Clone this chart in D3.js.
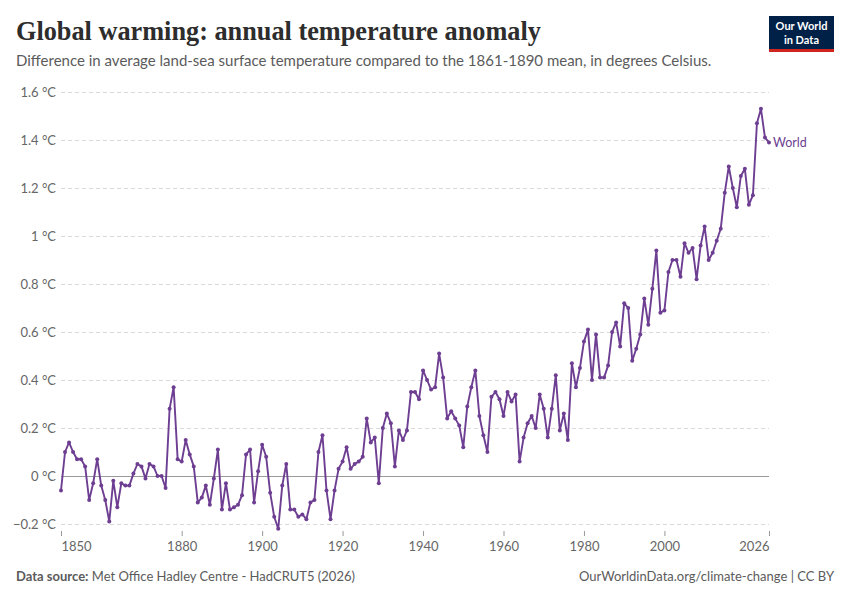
<!DOCTYPE html>
<html lang="en">

<head>
  <meta charset="utf-8">
  <title>Global warming: annual temperature anomaly</title>
  <script src="https://d3js.org/d3.v7.min.js" charset="utf-8"></script>
  <style type="text/css">
    body {
      margin: 0;
      background: #fff;
    }

    text {
      font-family: Lato, "Noto Sans", sans-serif;
    }
  </style>
</head>

<body>
  <script type="text/javascript">
    // years 1850..2026, one value per year (degrees C vs 1861-1890)
    var firstYear = 1850;
    var anomaly = [
      -0.06, 0.10, 0.14, 0.10, 0.07, 0.07, 0.04, -0.10, -0.03, 0.07,   // 1850s
      -0.04, -0.10, -0.19, -0.02, -0.13, -0.03, -0.04, -0.04, 0.01, 0.05, // 1860s
      0.04, -0.01, 0.05, 0.04, 0.00, 0.00, -0.05, 0.28, 0.37, 0.07,    // 1870s
      0.06, 0.15, 0.09, 0.04, -0.11, -0.09, -0.04, -0.12, -0.01, 0.11, // 1880s
      -0.14, -0.03, -0.14, -0.13, -0.12, -0.08, 0.09, 0.11, -0.11, 0.02, // 1890s
      0.13, 0.08, -0.07, -0.17, -0.22, -0.04, 0.05, -0.14, -0.14, -0.17, // 1900s
      -0.16, -0.18, -0.11, -0.10, 0.10, 0.17, -0.06, -0.18, -0.06, 0.03, // 1910s
      0.06, 0.12, 0.03, 0.05, 0.06, 0.08, 0.24, 0.14, 0.16, -0.03,     // 1920s
      0.20, 0.26, 0.22, 0.04, 0.19, 0.15, 0.19, 0.35, 0.35, 0.32,      // 1930s
      0.44, 0.40, 0.36, 0.37, 0.51, 0.41, 0.24, 0.27, 0.24, 0.21,      // 1940s
      0.12, 0.29, 0.37, 0.44, 0.25, 0.17, 0.10, 0.33, 0.35, 0.32,      // 1950s
      0.25, 0.35, 0.31, 0.34, 0.06, 0.16, 0.22, 0.25, 0.20, 0.34,      // 1960s
      0.28, 0.16, 0.28, 0.42, 0.19, 0.26, 0.15, 0.47, 0.37, 0.45,      // 1970s
      0.56, 0.61, 0.40, 0.59, 0.41, 0.41, 0.46, 0.60, 0.64, 0.54,      // 1980s
      0.72, 0.70, 0.48, 0.53, 0.59, 0.74, 0.63, 0.78, 0.94, 0.68,      // 1990s
      0.69, 0.85, 0.90, 0.90, 0.83, 0.97, 0.93, 0.95, 0.82, 0.96,      // 2000s
      1.04, 0.90, 0.93, 0.98, 1.03, 1.18, 1.29, 1.20, 1.12, 1.25,      // 2010s
      1.28, 1.13, 1.17, 1.47, 1.53, 1.41, 1.39                         // 2020s
    ];
    var yTicks = [-0.2, 0, 0.2, 0.4, 0.6, 0.8, 1, 1.2, 1.4, 1.6];
    var xTicks = [1850, 1880, 1900, 1920, 1940, 1960, 1980, 2000, 2026];
    var seriesName = "World";

    var data = anomaly.map(function (v, i) {
      return { year: firstYear + i, value: v };
    });

    var width = 850,
      height = 600,
      margin = { top: 92, right: 81, bottom: 76, left: 61 },
      purple = "#6d3e91";

    var svg = d3.select("body")
      .append("svg")
      .attr("width", width)
      .attr("height", height);

    var x = d3.scaleLinear()
      .domain([1850, 2026])
      .range([margin.left, width - margin.right]);

    var y = d3.scaleLinear()
      .domain([-0.2, 1.6])
      .range([height - margin.bottom, margin.top]);

    // header
    var title = svg.append("text")
      .attr("x", 16)
      .attr("y", 40)
      .attr("fill", "#2d2d2d")
      .style("font-family", "'Liberation Serif', 'DejaVu Serif', serif")
      .style("font-weight", "bold")
      .style("font-size", "26px")
      .text("Global warming: annual temperature anomaly");
    // squeeze the serif title to the reference width
    var tw = title.node().getComputedTextLength();
    title.style("font-size", (26 * 525 / tw) + "px");

    svg.append("text")
      .attr("x", 16)
      .attr("y", 66)
      .attr("fill", "#5b5b5b")
      .style("font-size", "15px")
      .text("Difference in average land-sea surface temperature compared to the 1861-1890 mean, in degrees Celsius.");

    // logo
    var logo = svg.append("g").attr("transform", "translate(769,16)");
    logo.append("rect").attr("width", 65).attr("height", 36).attr("fill", "#002147");
    logo.append("rect").attr("y", 33).attr("width", 65).attr("height", 3).attr("fill", "#ce261e");
    logo.append("text").attr("x", 32.5).attr("y", 14).attr("text-anchor", "middle")
      .attr("fill", "#fff").style("font-size", "11px").style("font-weight", "bold")
      .text("Our World");
    logo.append("text").attr("x", 32.5).attr("y", 27.5).attr("text-anchor", "middle")
      .attr("fill", "#fff").style("font-size", "11px").style("font-weight", "bold")
      .text("in Data");

    // y grid + labels
    var yAxis = svg.append("g")
      .attr("id", "yaxis")
      .attr("transform", "translate(" + margin.left + ",0)")
      .call(d3.axisLeft(y)
        .tickValues(yTicks)
        .tickSize(-(width - margin.left - margin.right))
        .tickPadding(5)
        .tickFormat(function (d) { return d3.format("~g")(d) + " °C"; }));
    yAxis.select(".domain").remove();
    yAxis.selectAll(".tick line")
      .attr("stroke", function (d) { return d === 0 ? "#9a9a9a" : "#dadada"; })
      .attr("stroke-dasharray", function (d) { return d === 0 ? null : "4,3"; });
    yAxis.selectAll(".tick text")
      .attr("fill", "#666")
      .style("font-size", "13px")
      .style("font-family", "Lato, sans-serif");

    // x axis
    var xAxis = svg.append("g")
      .attr("id", "xaxis")
      .attr("transform", "translate(0," + (height - margin.bottom + 7) + ")")
      .call(d3.axisBottom(x)
        .tickValues(xTicks)
        .tickSize(5)
        .tickPadding(6)
        .tickFormat(d3.format("d")));
    xAxis.select(".domain").remove();
    xAxis.selectAll(".tick line").attr("stroke", "#999");
    xAxis.selectAll(".tick text")
      .attr("fill", "#666")
      .style("font-size", "13px")
      .style("font-family", "Lato, sans-serif")
      .attr("text-anchor", function (d) {
        return d === xTicks[0] ? "start" : d === xTicks[xTicks.length - 1] ? "end" : "middle";
      });

    // line + points
    var line = d3.line()
      .x(function (d) { return x(d.year); })
      .y(function (d) { return y(d.value); });

    svg.append("path")
      .datum(data)
      .attr("fill", "none")
      .attr("stroke", purple)
      .attr("stroke-width", 1.9)
      .attr("stroke-linejoin", "round")
      .attr("d", line);

    svg.selectAll("circle.pt")
      .data(data)
      .enter()
      .append("circle")
      .attr("class", "pt")
      .attr("cx", function (d) { return x(d.year); })
      .attr("cy", function (d) { return y(d.value); })
      .attr("r", 2)
      .attr("fill", purple);

    var last = data[data.length - 1];
    svg.append("text")
      .attr("x", x(last.year) + 4)
      .attr("y", y(last.value) + 4.5)
      .attr("fill", purple)
      .style("font-size", "12.5px")
      .text(seriesName);

    // footer
    var src = svg.append("text")
      .attr("x", 16)
      .attr("y", 581)
      .attr("fill", "#5b5b5b")
      .style("font-size", "13px");
    src.append("tspan").style("font-weight", "bold").text("Data source:");
    src.append("tspan").text(" Met Office Hadley Centre - HadCRUT5 (2026)");

    svg.append("text")
      .attr("x", 834)
      .attr("y", 581)
      .attr("text-anchor", "end")
      .attr("fill", "#5b5b5b")
      .style("font-size", "13px")
      .text("OurWorldinData.org/climate-change | CC BY");
  </script>
</body>

</html>
